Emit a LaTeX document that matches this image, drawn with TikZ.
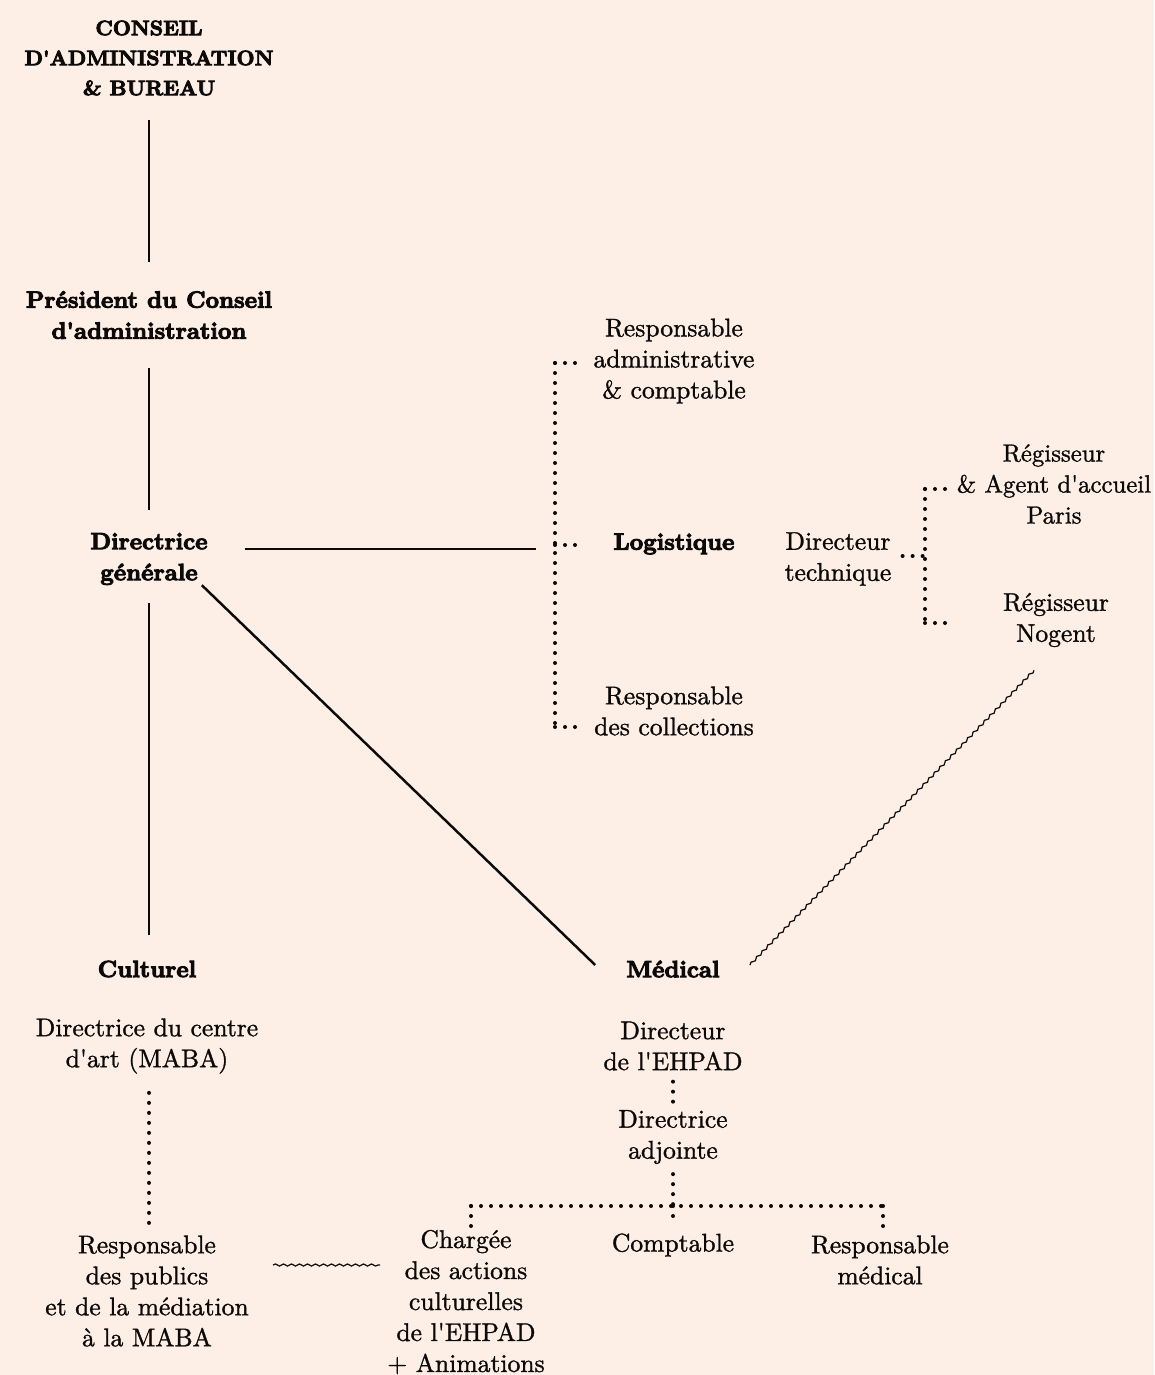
\documentclass[tikz,border=0pt]{standalone}
\usepackage{fontspec}
\usetikzlibrary{decorations.pathmorphing}
\newfontfamily\hdfont{lmroman10-bold.otf}[FakeBold=4]
\newfontfamily\bodyfont{lmroman10-regular.otf}[FakeBold=1.2]
\definecolor{bgc}{RGB}{253,238,230}
\definecolor{ink}{RGB}{12,10,9}
\tikzset{
  txt/.style={font=\fontsize{19.2}{23.25}\bodyfont, align=center, inner sep=0pt, text=ink},
  txtnarrow/.style={txt, font=\fontsize{18.6}{23.25}\bodyfont},
  hd/.style={font=\fontsize{17.6}{23.25}\hdfont, align=center, inner sep=0pt, text=ink},
  hdcaps/.style={font=\fontsize{15.7}{22.5}\hdfont, align=center, inner sep=0pt, text=ink},
  solidline/.style={draw=ink, line width=1.85pt},
  dotline/.style={draw=ink, line width=3pt, line cap=round, dash pattern=on 0pt off 7.5pt},
  wavyline/.style={draw=ink, line width=0.9pt, decorate, decoration={snake, amplitude=0.8pt, segment length=6pt}},
}
\begin{document}
\begin{tikzpicture}[x=0.75pt,y=-0.75pt]
\useasboundingbox (0,0) rectangle (1154,1375);
\fill[bgc] (0,0) rectangle (1154,1375);

% nodes
\node[hdcaps] (conseil) at (149,58) {CONSEIL\\D\textquotesingle ADMINISTRATION\\\& BUREAU};
\node[hd] (pres) at (149,315) {Président du Conseil\\d'administration};
\node[hd] (dg) at (149,559) {Directrice\\générale};
\node[hd] (logi) at (674,544) {Logistique};
\node[txt] (radm) at (674,361) {Responsable\\administrative\\\& comptable};
\node[txt] (rcoll) at (674,711) {Responsable\\des collections};
\node[txt] (dtech) at (838,559) {Directeur\\technique};
\node[txtnarrow] (rparis) at (1054,484) {Régisseur\\\& Agent d\textquotesingle accueil\\Paris};
\node[txt] (rnog) at (1056,620) {Régisseur\\Nogent};
\node[hd] (cult) at (147,969) {Culturel};
\node[hd] (med) at (673,969) {Médical};
\node[txt] (dcentre) at (147,1046) {Directrice du centre\\d\textquotesingle art (MABA)};
\node[txt] (dehpad) at (673,1046) {Directeur\\de l\textquotesingle EHPAD};
\node[txt] (dadj) at (673,1137) {Directrice\\adjointe};
\node[txt] (rpub) at (147,1291) {Responsable\\des publics\\et de la médiation\\à la MABA};
\node[txt] (charg) at (466,1302) {Chargée\\des actions\\culturelles\\de l\textquotesingle EHPAD\\+ Animations};
\node[txt] (compt) at (673,1245) {Comptable};
\node[txt] (rmed) at (880,1260) {Responsable\\médical};

% bracket coordinates
\coordinate (bT) at (555,363);
\coordinate (bM) at (555,545);
\coordinate (bB) at (555,727);
\coordinate (tT) at (925,489);
\coordinate (tM) at (925,556);
\coordinate (tB) at (925,623);
\coordinate (mH) at (673,1206);

% solid connectors
\draw[solidline] (conseil.south |- 0,120) -- (pres.north |- 0,262);
\draw[solidline] (pres.south |- 0,368) -- (dg.north |- 0,510);
\draw[solidline] (dg.south |- 0,603) -- (dg.south |- 0,935);
\draw[solidline] (248,549 -| dg.east) ++(37,0) -- (536,549);
\draw[solidline] ([shift={(-6,0)}]dg.south east) -- ([shift={(-31,-4)}]med.west);

% logistics bracket
\draw[dotline] (bT) -- (bB);
\draw[dotline] (bT) -- ++(22,0);
\draw[dotline] (bM) -- ++(22,0);
\draw[dotline] (bB) -- ++(22,0);

% technical bracket
\draw[dotline] (tT) -- (tB);
\draw[dotline] (tT) -- ++(22,0);
\draw[dotline] (tB) -- ++(22,0);
\draw[dotline] ([shift={(11,-3)}]dtech.east) -- (tM);

% cultural chain
\draw[dotline] ([shift={(2,19)}]dcentre.south) -- ([shift={(2,-4)}]rpub.north);

% medical chain
\draw[dotline] ([shift={(0,11)}]dehpad.south) -- ([shift={(0,-4)}]dadj.north);
\draw[dotline] ([shift={(0,10)}]dadj.south) -- (mH);
\draw[dotline] (471,1206) -- (883,1206);
\draw[dotline] (471,1206) -- (471,1228);
\draw[dotline] (mH) -- ([shift={(0,-10)}]compt.north);
\draw[dotline] (883,1206) -- (883,1228);

% wavy links
\draw[wavyline] (273,1265) -- (380,1265);
\draw[wavyline] ([shift={(-22,23)}]rnog.south) -- ([shift={(30,-4)}]med.east);
\end{tikzpicture}
\end{document}
